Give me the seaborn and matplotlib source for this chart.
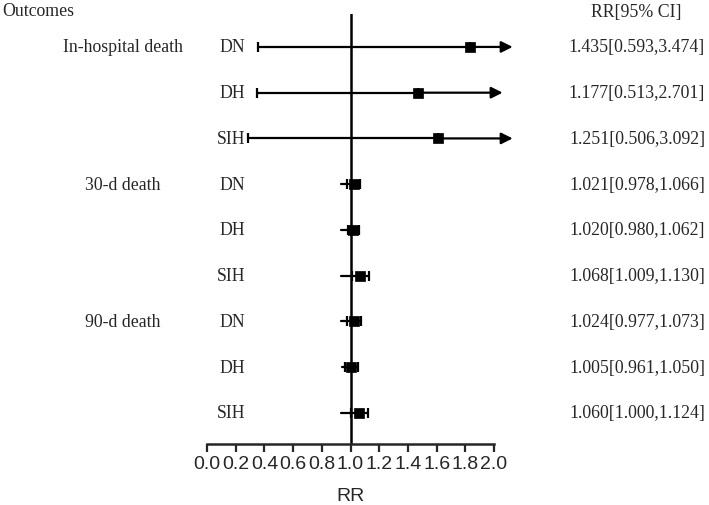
import matplotlib
matplotlib.use('Agg')
import matplotlib.pyplot as plt
import matplotlib.transforms as mtransforms
import seaborn as sns
import pandas as pd

# 数据
groups = ['In-hospital death', '30-d death', '90-d death']
subgroups = ['DN', 'DH', 'SIH', 'DN', 'DH', 'SIH', 'DN', 'DH', 'SIH']
# positions as drawn in the picture
rr = [1.836, 1.467, 1.613, 1.021, 1.020, 1.068, 1.024, 1.005, 1.060]
lo = [0.352, 0.345, 0.285, 0.978, 0.980, 1.009, 0.977, 0.961, 1.000]
hi = [2.13, 2.06, 2.13, 1.066, 1.062, 1.130, 1.073, 1.050, 1.124]
tail = [None, None, None, 0.935, 0.935, 0.935, 0.935, 0.944, 0.935]
ci_text = ['1.435[0.593,3.474]', '1.177[0.513,2.701]', '1.251[0.506,3.092]',
           '1.021[0.978,1.066]', '1.020[0.980,1.062]', '1.068[1.009,1.130]',
           '1.024[0.977,1.073]', '1.005[0.961,1.050]', '1.060[1.000,1.124]']
xticks = [0.0, 0.2, 0.4, 0.6, 0.8, 1.0, 1.2, 1.4, 1.6, 1.8, 2.0]

df = pd.DataFrame({'row': range(len(rr)), 'rr': rr})

sns.set_style('white')
serif = ['Liberation Serif', 'DejaVu Serif']
sans = ['Liberation Sans', 'DejaVu Sans']
plt.rcParams['font.family'] = sans
fs = 12.8

W, H = 709, 506
fig = plt.figure(figsize=(W / 100, H / 100), dpi=100)
ax = fig.add_axes([180 / W, (H - 445) / H, 360 / W, 430 / H])
ax.set_xlim(-27 / 143.5, 333 / 143.5)
ax.set_ylim(8.68, -0.72)

# 参考线
ax.axvline(1.0, color='black', lw=1.8, zorder=1)

# 误差线
for i in range(len(rr)):
    if hi[i] > 2.0:
        ax.errorbar(rr[i], i, xerr=[[rr[i] - lo[i]], [0]], fmt='none',
                    ecolor='black', elinewidth=1.6, capsize=3.5, capthick=1.6, zorder=2)
        ax.annotate('', xy=(hi[i], i), xytext=(rr[i], i),
                    arrowprops=dict(arrowstyle='-|>', mutation_scale=17, lw=1.6,
                                    color='black', shrinkA=0, shrinkB=0), zorder=2)
    else:
        ax.plot([tail[i], lo[i]], [i, i], color='black', lw=1.6, zorder=2)
        ax.errorbar(rr[i], i, xerr=[[rr[i] - lo[i]], [hi[i] - rr[i]]], fmt='none',
                    ecolor='black', elinewidth=1.6, capsize=3.5, capthick=1.6, zorder=2)

# 方块
sns.scatterplot(data=df, x='rr', y='row', marker='s', s=50, color='black',
                edgecolor='black', linewidth=0.5, ax=ax, zorder=3)

# 坐标轴
for s in ['top', 'right', 'left']:
    ax.spines[s].set_visible(False)
ax.spines['bottom'].set_bounds(0, 2)
ax.spines['bottom'].set_linewidth(1.8)
ax.set_xticks(xticks)
ax.set_xticklabels([f'{t:.1f}' for t in xticks], fontsize=14)
ax.tick_params(axis='x', direction='out', length=6, width=1.6, pad=2, bottom=True)
ax.set_yticks([])
ax.set_xlabel('')
ax.set_ylabel('')
fig.text(351 / W, 1 - 497 / H, 'RR', ha='center', va='center', fontsize=14)

# 文字
trans = mtransforms.blended_transform_factory(fig.transFigure, ax.transData)
fig.text(2 / W, 1 - 11 / H, 'Outcomes', ha='left', va='center', fontsize=fs, family=serif)
fig.text(636 / W, 1 - 13 / H, 'RR[95% CI]', ha='center', va='center', fontsize=fs, family=serif)
for g, name in enumerate(groups):
    ax.text(123 / W, g * 3, name, transform=trans, ha='center', va='center',
            fontsize=fs, family=serif)
for i in range(len(rr)):
    ax.text(245 / W, i, subgroups[i], transform=trans, ha='right', va='center',
            fontsize=fs, family=serif)
    ax.text(637 / W, i, ci_text[i], transform=trans, ha='center', va='center',
            fontsize=fs, family=serif)

fig.savefig('out.png', dpi=100)
